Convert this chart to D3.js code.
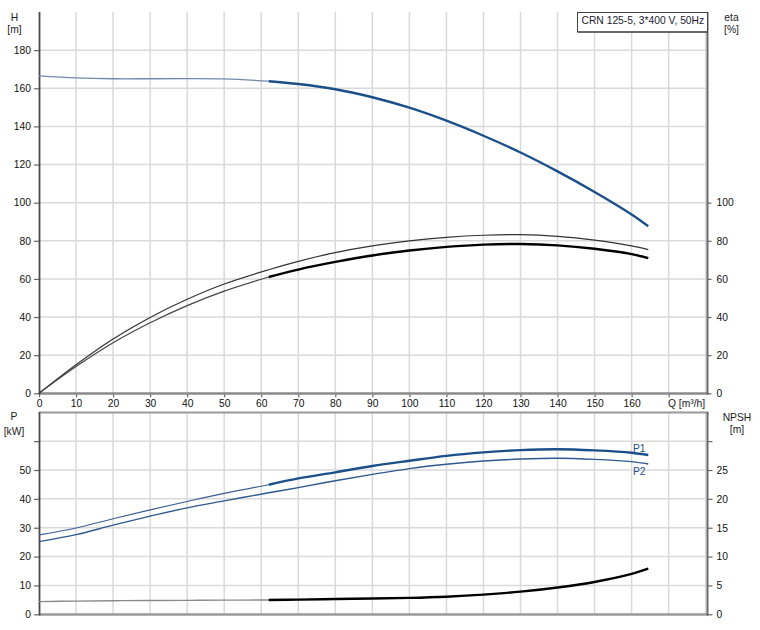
<!DOCTYPE html>
<html>
<head>
<meta charset="utf-8">
<script src="https://cdn.jsdelivr.net/npm/d3@7"></script>
<style>
  html, body { margin: 0; padding: 0; background: #fff; }
  svg { display: block; font-family: "Liberation Sans", Arial, sans-serif; }
  .tick text { font-size: 10.3px; fill: #111; }
</style>
</head>
<body>
<svg id="chart" width="760" height="630"></svg>
<script>
// ---- data ----
const Q        = [0, 10, 20, 30, 40, 50, 62, 70, 80, 90, 100, 110, 120, 130, 140, 150, 160, 164.5];
const H        = [166.5, 165.4, 165.0, 165.0, 165.1, 164.9, 163.7, 162.2, 159.5, 155.3, 149.8, 143.0, 135.1, 126.3, 116.4, 105.6, 93.8, 87.6];
const etaTotal = [0, 15.0, 28.5, 39.8, 49.3, 57.3, 64.8, 69.2, 73.8, 77.3, 79.9, 81.8, 82.9, 83.2, 82.3, 80.3, 77.3, 75.4];
const etaPump  = [0, 14.0, 26.5, 37.0, 46.0, 53.6, 61.0, 64.9, 68.9, 72.3, 74.9, 76.8, 78.0, 78.3, 77.6, 75.8, 73.0, 70.9];
const P1       = [27.5, 29.9, 33.1, 36.2, 39.1, 41.9, 44.9, 47.1, 49.2, 51.4, 53.2, 54.9, 56.1, 56.9, 57.2, 56.8, 56.0, 55.2];
const P2       = [25.2, 27.6, 30.9, 34.0, 36.9, 39.3, 42.1, 43.9, 46.3, 48.5, 50.5, 52.0, 53.1, 53.8, 54.1, 53.7, 52.9, 52.1];
const NPSH     = [2.2, 2.28, 2.35, 2.39, 2.42, 2.45, 2.48, 2.55, 2.65, 2.75, 2.85, 3.05, 3.4, 3.92, 4.65, 5.6, 7.0, 7.9];
const dutyStart = 62;

const qGrid    = [10,20,30,40,50,60,70,80,90,100,110,120,130,140,150,160,170,180];
const qTicks   = [0,10,20,30,40,50,60,70,80,90,100,110,120,130,140,150,160,170];
const hTicks   = [0,20,40,60,80,100,120,140,160,180];
const etaTicks = [0,20,40,60,80,100];
const pTicks   = [0,10,20,30,40,50,60];
const pLabels  = [0,10,20,30,40,50];
const nTicks   = [0,5,10,15,20,25,30];
const nLabels  = [0,5,10,15,20,25];
const title    = "CRN 125-5, 3*400 V, 50Hz";

// ---- layout ----
const svg = d3.select("#chart");
const L = 39, R = 707.5;
const x  = d3.scaleLinear([0, 180], [L, 705.7]);
const yH = d3.scaleLinear([0, 200], [393.3, 12]);
const yP = d3.scaleLinear([0, 70], [614.3, 412.3]);
const yN = d3.scaleLinear([0, 35], [614.3, 412.3]);

const BLUE = "#1b4f8a";
const GRID = "#d9d9d9";
const FS = 10.3;

svg.append("rect").attr("width", 760).attr("height", 630).attr("fill", "#fff");

function grid(yScale, yVals, top, bottom) {
  const g = svg.append("g");
  g.selectAll(".v").data(qGrid).join("line")
    .attr("x1", d => x(d)).attr("x2", d => x(d))
    .attr("y1", top).attr("y2", bottom)
    .attr("stroke", GRID).attr("stroke-width", 1.5);
  g.selectAll(".h").data(yVals).join("line")
    .attr("x1", L).attr("x2", R)
    .attr("y1", d => yScale(d)).attr("y2", d => yScale(d))
    .attr("stroke", GRID).attr("stroke-width", 1.5);
}
grid(yH, [20,40,60,80,100,120,140,160,180], 12, 393);
grid(yP, [10,20,30,40,50,60], 412, 614);

// ---- axes ----
function styleAxis(g) {
  g.select(".domain").remove();
  g.selectAll(".tick line").attr("stroke", "#666").attr("stroke-width", 1.2);
}
svg.append("g").attr("transform", `translate(${L},0)`)
  .call(d3.axisLeft(yH).tickValues(hTicks).tickSize(5).tickPadding(3).tickFormat(d3.format("d")))
  .call(styleAxis);
svg.append("g").attr("transform", `translate(${R},0)`)
  .call(d3.axisRight(yH).tickValues(etaTicks).tickSize(4).tickPadding(5).tickFormat(d3.format("d")))
  .call(styleAxis);
svg.append("g").attr("transform", `translate(0,393.3)`)
  .call(d3.axisBottom(x).tickValues(qTicks).tickSize(4).tickPadding(2)
        .tickFormat(d => d === 170 ? "" : d3.format("d")(d)))
  .call(styleAxis);
svg.append("g").attr("transform", `translate(${L},0)`)
  .call(d3.axisLeft(yP).tickValues(pTicks).tickSize(5).tickPadding(3)
        .tickFormat(d => pLabels.includes(d) ? d3.format("d")(d) : ""))
  .call(styleAxis);
svg.append("g").attr("transform", `translate(${R},0)`)
  .call(d3.axisRight(yN).tickValues(nTicks).tickSize(5).tickPadding(4)
        .tickFormat(d => nLabels.includes(d) ? d3.format("d")(d) : ""))
  .call(styleAxis);

function line(x1, y1, x2, y2, c, w) {
  svg.append("line").attr("x1", x1).attr("y1", y1).attr("x2", x2).attr("y2", y2)
    .attr("stroke", c).attr("stroke-width", w);
}
line(L, 393.5, 708.5, 393.5, "#8a8a8a", 2.5);
line(L, 412.5, 708.5, 412.5, "#9a9a9a", 2);
line(L, 614.5, 708.5, 614.5, "#9a9a9a", 2.5);
line(39.5, 12, 39.5, 394.5, "#4a4a4a", 1.8);
line(39.5, 412, 39.5, 615.5, "#4a4a4a", 1.8);
line(R, 12, R, 394.5, "#6a6a6a", 2);
line(R, 412, R, 615.5, "#6a6a6a", 2);

// ---- axis titles ----
function label(t, tx, ty, anchor = "middle", fill = "#222", size = FS) {
  svg.append("text").attr("x", tx).attr("y", ty).attr("text-anchor", anchor)
    .attr("font-size", size).attr("fill", fill).text(t);
}
label("H", 14.5, 20.5);
label("[m]", 14.5, 32.5);
label("eta", 731.5, 20.5);
label("[%]", 731.5, 32.5);
label("Q [m³/h]", 668, 406.5, "start");
label("P", 14, 419.5);
label("[kW]", 14, 434.5);
label("NPSH", 737, 420.5);
label("[m]", 737, 433);

// ---- curves ----
function drawCurve(yScale, vals, from, to, color, width) {
  const pts = Q.map((q, i) => [q, vals[i]]).filter(d => d[0] >= from && d[0] <= to);
  const gen = d3.line().x(d => x(d[0])).y(d => yScale(d[1])).curve(d3.curveCatmullRom.alpha(0.5));
  svg.append("path").attr("d", gen(pts)).attr("fill", "none")
    .attr("stroke", color).attr("stroke-width", width)
    .attr("stroke-linejoin", "round");
}
const qEnd = Q[Q.length - 1];

drawCurve(yH, H, 0, dutyStart, "#7289ad", 1.3);
drawCurve(yH, H, dutyStart, qEnd, BLUE, 2.4);
drawCurve(yH, etaTotal, 0, qEnd, "#333", 1.2);
drawCurve(yH, etaPump, 0, dutyStart, "#444", 1.2);
drawCurve(yH, etaPump, dutyStart, qEnd, "#000", 2.4);
drawCurve(yP, P1, 0, dutyStart, "#3c5f92", 1.2);
drawCurve(yP, P1, dutyStart, qEnd, BLUE, 2.4);
drawCurve(yP, P2, 0, qEnd, "#2f5a90", 1.4);
drawCurve(yN, NPSH, 0, dutyStart, "#8a8a8a", 1.4);
drawCurve(yN, NPSH, dutyStart, qEnd, "#000", 2.4);

label("P1", 633, 452, "start", BLUE);
label("P2", 633, 475, "start", BLUE);

// ---- title box ----
svg.append("rect").attr("x", 577.5).attr("y", 12.5).attr("width", 130).attr("height", 19.5)
  .attr("fill", "#fff").attr("stroke", "#444").attr("stroke-width", 1);
line(578, 32, 708, 32, "#555", 1.5);
label(title, 581.5, 24, "start", "#1a1a2e");
</script>
</body>
</html>
